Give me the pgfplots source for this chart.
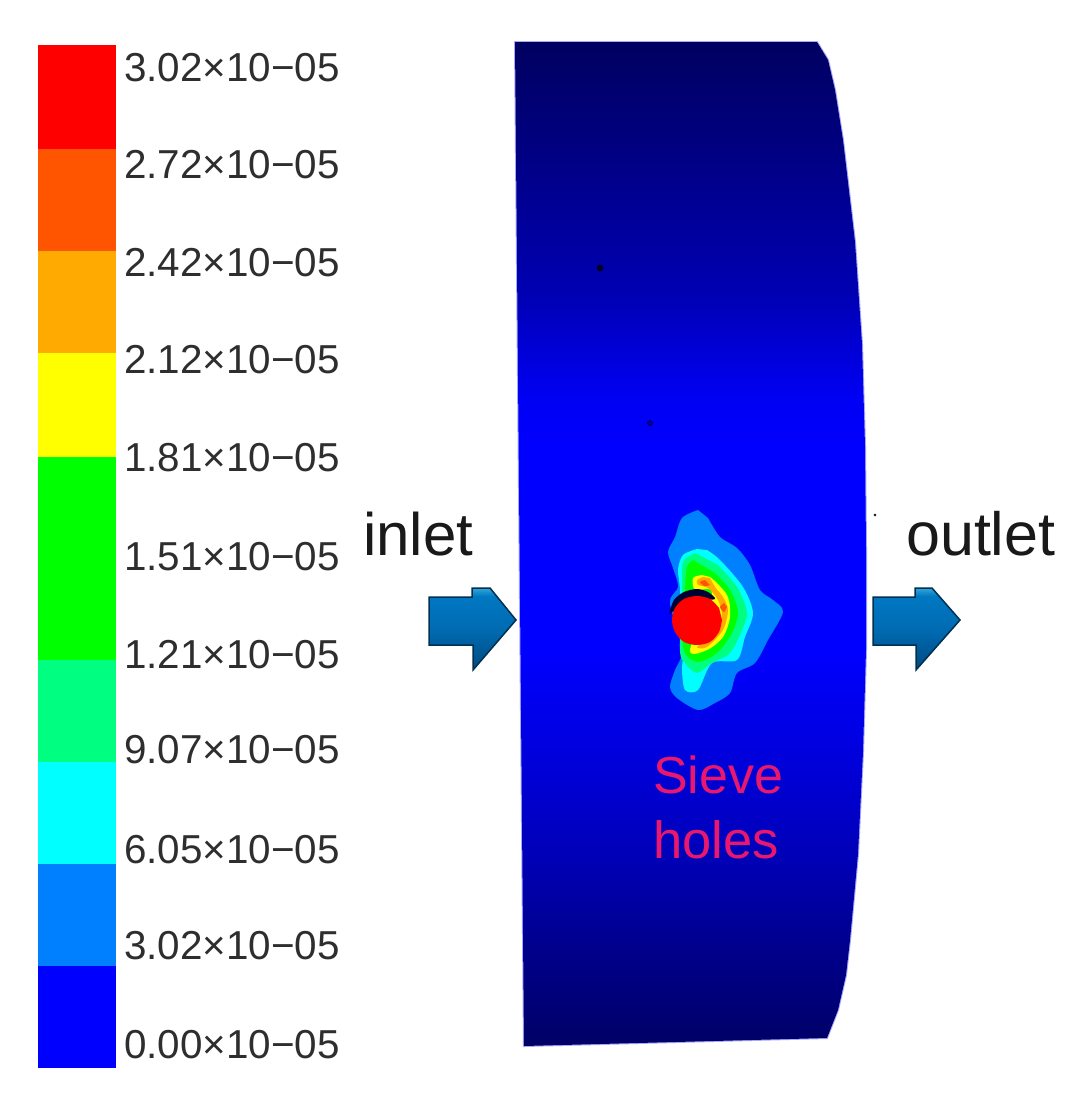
\documentclass[border=0pt]{standalone}
\usepackage{fontspec}
\setmainfont{Liberation Sans}
\usepackage{pgfplots}
\pgfplotsset{compat=1.18}
\definecolor{lred}{HTML}{FF0000}
\definecolor{lorange}{HTML}{FF5500}
\definecolor{lamber}{HTML}{FFAA00}
\definecolor{lyellow}{HTML}{FFFF00}
\definecolor{lgreen}{HTML}{00FF00}
\definecolor{lspring}{HTML}{00FF80}
\definecolor{lcyan}{HTML}{00FFFF}
\definecolor{lsky}{HTML}{0080FF}
\definecolor{lblue}{HTML}{0000FF}
\definecolor{txt}{HTML}{2E2E2E}
\definecolor{pinkt}{HTML}{E8186E}
\definecolor{navy}{HTML}{000033}
\definecolor{speck}{HTML}{000020}
\definecolor{speckb}{HTML}{0000A0}
\definecolor{arrowedge}{HTML}{003050}
\definecolor{fringe}{HTML}{A8A8FF}
\pgfdeclareverticalshading{bodyshade}{100bp}{
 rgb(0bp)=(0,0,0.40);
 rgb(25bp)=(0,0,0.40);
 rgb(30.2bp)=(0,0,0.56);
 rgb(34.5bp)=(0,0,0.72);
 rgb(39.7bp)=(0,0,0.87);
 rgb(44.7bp)=(0,0,1);
 rgb(54.7bp)=(0,0,1);
 rgb(57.4bp)=(0,0,0.95);
 rgb(62.5bp)=(0,0,0.70);
 rgb(70bp)=(0,0,0.50);
 rgb(75bp)=(0,0,0.38);
 rgb(100bp)=(0,0,0.38)}
\pgfdeclareverticalshading{arrowshade}{100bp}{
 rgb(0bp)=(0,0.29,0.50);
 rgb(25bp)=(0,0.29,0.50);
 rgb(50bp)=(0,0.42,0.70);
 rgb(70bp)=(0,0.47,0.76);
 rgb(75bp)=(0.2,0.65,0.85);
 rgb(100bp)=(0.2,0.65,0.85)}
\begin{document}
\begin{tikzpicture}
\begin{axis}[
  scale only axis, width=1081pt, height=1114pt,
  xmin=0, xmax=1081, ymin=0, ymax=1114, y dir=reverse,
  axis lines=none, clip=false]
% page extent
\addplot[fill=white,draw=none] coordinates {(0,0)(1081,0)(1081,1114)(0,1114)} -- cycle;
% colour scale
\addplot[fill=lred,draw=none] coordinates {(38,45)(116,45)(116,149)(38,149)} -- cycle;
\addplot[fill=lorange,draw=none] coordinates {(38,149)(116,149)(116,251)(38,251)} -- cycle;
\addplot[fill=lamber,draw=none] coordinates {(38,251)(116,251)(116,353)(38,353)} -- cycle;
\addplot[fill=lyellow,draw=none] coordinates {(38,353)(116,353)(116,457)(38,457)} -- cycle;
\addplot[fill=lgreen,draw=none] coordinates {(38,457)(116,457)(116,660)(38,660)} -- cycle;
\addplot[fill=lspring,draw=none] coordinates {(38,660)(116,660)(116,762)(38,762)} -- cycle;
\addplot[fill=lcyan,draw=none] coordinates {(38,762)(116,762)(116,864)(38,864)} -- cycle;
\addplot[fill=lsky,draw=none] coordinates {(38,864)(116,864)(116,966)(38,966)} -- cycle;
\addplot[fill=lblue,draw=none] coordinates {(38,966)(116,966)(116,1068)(38,1068)} -- cycle;
% body
\addplot[draw=fringe,line width=2pt,shading=bodyshade] coordinates {
 (515,42)(817,42)(828,60)(835,90)(843,140)(855,242)(862,344)(865,446)(866,548)(866,650)(863,752)(858,854)(850,940)(846,975)(838,1010)(827,1038)(524,1046)} -- cycle;
\addplot[shading=bodyshade,draw=none] coordinates {
 (515,42)(817,42)(828,60)(835,90)(843,140)(855,242)(862,344)(865,446)(866,548)(866,650)(863,752)(858,854)(850,940)(846,975)(838,1010)(827,1038)(524,1046)} -- cycle;
% contours
\addplot[fill=lsky,draw=none,smooth,tension=0.5] coordinates {
 (698,510)(682,518)(675,537)(668,552)(673,568)(678,587)(670,603)(682,650)(675,670)(670,687)(677,698)(698,710)(715,703)(730,693)(737,673)(755,663)(768,640)(783,612)(773,600)(760,590)(750,565)(737,548)(720,537)(708,518)} -- cycle;
\addplot[fill=lcyan,draw=none,smooth,tension=0.5] coordinates {
 (697,549)(683,555)(678,570)(680,590)(683,650)(682,670)(685,690)(698,690)(712,663)(737,660)(745,637)(753,613)(743,587)(720,560)(707,550)} -- cycle;
\addplot[fill=lspring,draw=none,smooth,tension=0.5] coordinates {
 (695,553)(683,562)(682,587)(680,650)(685,663)(697,673)(712,663)(730,653)(742,630)(747,612)(737,587)(718,565)} -- cycle;
\addplot[fill=lgreen,draw=none,smooth,tension=0.5] coordinates {
 (693,560)(687,567)(685,587)(683,647)(697,662)(717,653)(732,633)(738,612)(730,590)(715,573)} -- cycle;
\addplot[fill=lyellow,draw=none,smooth,tension=0.5] coordinates {
 (702,575)(693,578)(695,590)(712,593)(690,650)(707,650)(723,637)(730,617)(728,597)(717,583)(710,577)} -- cycle;
\addplot[fill=lamber,draw=none,smooth,tension=0.5] coordinates {
 (703,577)(697,580)(698,585)(708,588)(718,600)(722,617)(713,637)(697,647)(707,647)(723,630)(728,610)(723,597)(715,587)(710,578)} -- cycle;
\addplot[fill=lorange,draw=none,smooth] coordinates {
 (705,580)(700,582)(704,586)(710,585)} -- cycle;
\addplot[fill=lorange,draw=none,smooth] coordinates {
 (724,603)(720,607)(724,612)(727,607)} -- cycle;
% dark crescent and red hole
\addplot[fill=navy,draw=none,smooth] coordinates {
 (669,614)(674,600)(684,592)(697,589)(708,592)(715,599)(700,600)(685,602)(675,610)} -- cycle;
\addplot[fill=lred,draw=none,smooth] coordinates {
 (722,620)(719,632)(710,642)(697,645)(684,642)(675,632)(672,620)(675,608)(684,599)(697,596)(710,599)(719,608)} -- cycle;
% specks
\addplot[only marks,mark=*,mark size=3pt,mark options={fill=speck,draw=none}] coordinates {(600,268)};
\addplot[only marks,mark=*,mark size=2.5pt,mark options={fill=speckb,draw=none}] coordinates {(650,423)};
\addplot[only marks,mark=*,mark size=1pt,mark options={fill=gray,draw=none}] coordinates {(875,515)};
% arrows
\addplot[shading=arrowshade,draw=arrowedge,line width=1.5pt] coordinates {
 (429,597)(472,597)(472,588)(490,588)(516,620)(473,670)(473,645)(429,645)} -- cycle;
\addplot[shading=arrowshade,draw=arrowedge,line width=1.5pt] coordinates {
 (873,597)(915,597)(915,588)(932,588)(960,620)(916,670)(916,645)(873,645)} -- cycle;
% text
\foreach \yy/\lab in {81/3.02,178/2.72,276/2.42,373/2.12,471/1.81,570/1.51,668/1.21,763/9.07,863/6.05,959/3.02,1058/0.00}{
  \edef\tmp{\noexpand\node[anchor=base west,inner sep=0pt,text=txt,font=\noexpand\fontsize{40.4}{40}\noexpand\selectfont] at (axis cs:124,\yy) {\lab×10−05};}
  \tmp
}
\node[anchor=base west,inner sep=0pt,text=black!90,font=\fontsize{60}{60}\selectfont] at (axis cs:363,555) {inlet};
\node[anchor=base west,inner sep=0pt,text=black!90,font=\fontsize{61}{61}\selectfont] at (axis cs:906,555) {outlet};
\node[anchor=base west,inner sep=0pt,text=pinkt,font=\fontsize{52}{52}\selectfont] at (axis cs:653,793) {Sieve};
\node[anchor=base west,inner sep=0pt,text=pinkt,font=\fontsize{52.5}{52}\selectfont] at (axis cs:653,858) {holes};
\end{axis}
\end{tikzpicture}
\end{document}
